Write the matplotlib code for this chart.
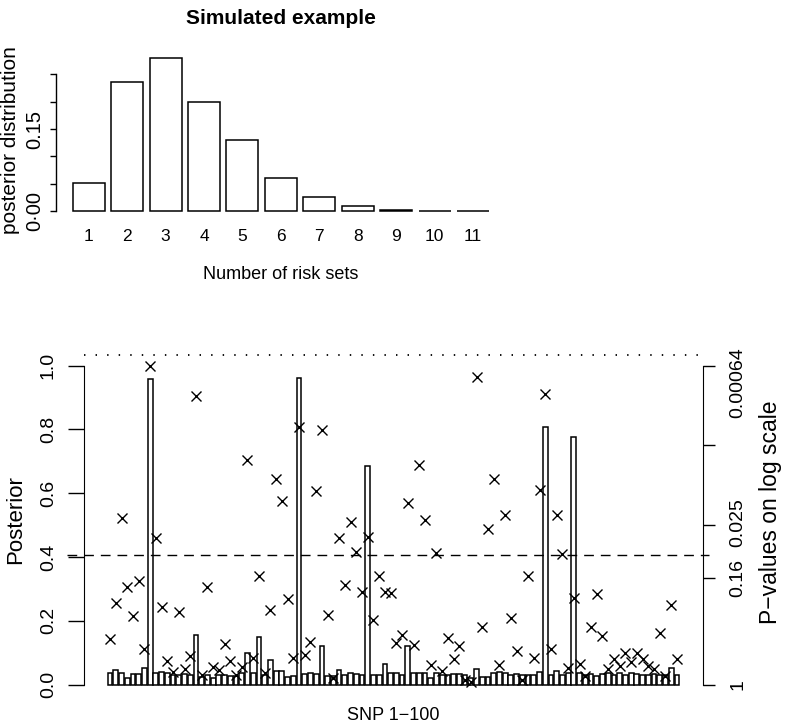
import numpy as np
import matplotlib
matplotlib.use("Agg")
import matplotlib.pyplot as plt
from matplotlib import transforms

# -----------------------------
# Data
# -----------------------------
n_risk_sets = [1, 2, 3, 4, 5, 6, 7, 8, 9, 10, 11]
set_posterior = [0.052, 0.235, 0.279, 0.200, 0.130, 0.060, 0.026, 0.010, 0.003, 0.0008, 0.0003]
set_ticks = [0.00, 0.05, 0.10, 0.15, 0.20, 0.25]
set_tick_labels = {0.00: "0·00", 0.15: "0.15"}

# posterior per SNP (bars), SNP 1..100
snp_posterior = [
    0.036, 0.046, 0.038, 0.022, 0.033, 0.033, 0.051, 0.957, 0.036, 0.041,
    0.038, 0.030, 0.030, 0.033, 0.030, 0.156, 0.025, 0.030, 0.020, 0.030,
    0.030, 0.027, 0.027, 0.036, 0.098, 0.036, 0.149, 0.030, 0.077, 0.044,
    0.044, 0.025, 0.027, 0.960, 0.033, 0.036, 0.033, 0.121, 0.027, 0.027,
    0.046, 0.030, 0.036, 0.033, 0.030, 0.687, 0.030, 0.030, 0.065, 0.038,
    0.038, 0.030, 0.121, 0.036, 0.036, 0.038, 0.020, 0.036, 0.030, 0.030,
    0.033, 0.033, 0.030, 0.020, 0.048, 0.025, 0.023, 0.038, 0.041, 0.038,
    0.030, 0.033, 0.030, 0.030, 0.030, 0.041, 0.809, 0.030, 0.044, 0.030,
    0.036, 0.777, 0.036, 0.030, 0.033, 0.027, 0.033, 0.036, 0.030, 0.036,
    0.030, 0.038, 0.033, 0.030, 0.030, 0.033, 0.030, 0.030, 0.051, 0.030,
]
# -log(p) scaled so that the smallest p-value (0.00064) sits at 1
snp_logp_scaled = [
    0.143, 0.255, 0.522, 0.305, 0.216, 0.326, 0.112, 1.000, 0.461, 0.243,
    0.074, 0.041, 0.229, 0.050, 0.090, 0.906, 0.029, 0.305, 0.056, 0.046,
    0.128, 0.073, 0.030, 0.056, 0.704, 0.083, 0.342, 0.038, 0.234, 0.645,
    0.576, 0.268, 0.083, 0.809, 0.093, 0.135, 0.608, 0.798, 0.218, 0.020,
    0.460, 0.311, 0.511, 0.417, 0.290, 0.464, 0.204, 0.341, 0.292, 0.286,
    0.132, 0.155, 0.569, 0.124, 0.689, 0.516, 0.063, 0.412, 0.044, 0.147,
    0.080, 0.120, 0.015, 0.010, 0.966, 0.181, 0.487, 0.645, 0.062, 0.532,
    0.209, 0.105, 0.015, 0.342, 0.083, 0.610, 0.910, 0.113, 0.532, 0.410,
    0.053, 0.272, 0.065, 0.027, 0.181, 0.285, 0.152, 0.050, 0.080, 0.060,
    0.098, 0.070, 0.098, 0.080, 0.060, 0.050, 0.163, 0.028, 0.251, 0.081,
]
post_ticks = [0.0, 0.2, 0.4, 0.6, 0.8, 1.0]
post_tick_labels = ["0.0", "0.2", "0.4", "0.6", "0.8", "1.0"]
p_ticks = [0.0, 0.336, 0.501, 0.752, 1.0]
p_label_pos = [0.0, 0.336, 0.508, 0.946]
p_tick_labels = ["1", "0.16", "0.025", "0.00064"]
p05_level = 0.407        # p = 0.05
bonf_level = 1.034       # p = 0.05 / 100

# -----------------------------
# Layout helpers (pixel based)
# -----------------------------
W, H = 788, 727
fig = plt.figure(figsize=(W / 100, H / 100), dpi=100)

def fx(px):
    return px / W

def fy(py):
    return 1 - py / H

HFONT = ["Liberation Sans", "DejaVu Sans"]
VFONT = ["Liberation Sans", "DejaVu Sans"]
PT = 72 / 100  # px -> pt

# -----------------------------
# Panel 1: number of risk sets
# -----------------------------
ax1 = fig.add_axes([fx(56), fy(217.4), (505.7 - 56) / W, (217.4 - 52.4) / H])
x1 = 0.7 + 1.2 * np.arange(len(n_risk_sets))
ax1.bar(x1, set_posterior, width=1.0, facecolor="white", edgecolor="black", linewidth=1.1)
ax1.set_xlim(-0.32, 13.72)
ax1.set_ylim(-0.0111, 0.2898)
for s in ["top", "right", "bottom"]:
    ax1.spines[s].set_visible(False)
ax1.spines["left"].set_bounds(0, 0.25)
ax1.spines["left"].set_linewidth(1.0)
ax1.set_xticks([])
ax1.set_yticks(set_ticks)
ax1.set_yticklabels([])
ax1.tick_params(axis="y", length=6 * PT, width=1.0, direction="out")

t1 = transforms.blended_transform_factory(ax1.transData, fig.transFigure)
for xi, lab in zip(x1, n_risk_sets):
    ax1.text(xi, fy(240.7), str(lab), transform=t1, ha="center", va="baseline",
             fontsize=12.5, family=HFONT)
ty1 = transforms.blended_transform_factory(fig.transFigure, ax1.transData)
for v, lab in set_tick_labels.items():
    ax1.text(fx(40), v, lab, transform=ty1, rotation=90, rotation_mode="anchor",
             ha="center", va="baseline", fontsize=14.5, family=VFONT)

fig.text(fx(281), fy(279.3), "Number of risk sets", ha="center", va="baseline",
         fontsize=13, family=HFONT)
fig.text(fx(16.5), fy(140), "posterior distribution", rotation=90, rotation_mode="anchor",
         ha="center", va="baseline", fontsize=15, family=VFONT)
fig.text(fx(281), fy(23.5), "Simulated example", ha="center", va="baseline",
         fontsize=15, fontweight="bold", family=HFONT)

# -----------------------------
# Panel 2: SNP posteriors and p-values
# -----------------------------
ax2 = fig.add_axes([fx(84.3), fy(698), (702.7 - 84.3) / W, (698 - 341) / H])
x2 = 0.7 + 1.2 * np.arange(len(snp_posterior))
ax2.bar(x2, snp_posterior, width=1.0, facecolor="white", edgecolor="black", linewidth=1.1)
ax2.plot(x2, snp_logp_scaled, linestyle="none", marker="x", markersize=7.8,
         markeredgewidth=1.0, color="black")
ax2.set_xlim(-4.7, 124.9)
ax2.set_ylim(-0.0417, 1.0774)

tl = transforms.blended_transform_factory(ax2.transAxes, ax2.transData)
ax2.plot([-0.028, 1.01], [p05_level, p05_level], transform=tl, clip_on=False,
         color="black", linewidth=1.0, linestyle=(0, (7, 5)))
ax2.plot([0.0, 1.005], [bonf_level, bonf_level], transform=tl, clip_on=False,
         color="black", linewidth=1.3, linestyle=(0, (0.8, 5.6)))

for s in ["top", "right", "bottom"]:
    ax2.spines[s].set_visible(False)
ax2.spines["left"].set_bounds(0, 1)
ax2.set_xticks([])
ax2.set_yticks(post_ticks)
ax2.set_yticklabels([])
ax2.tick_params(axis="y", length=16 * PT, width=1.0, direction="out")

ax3 = ax2.twinx()
ax3.set_ylim(ax2.get_ylim())
for s in ["top", "left", "bottom"]:
    ax3.spines[s].set_visible(False)
ax3.spines["right"].set_bounds(0, 1)
ax3.set_yticks(p_ticks)
ax3.set_yticklabels([])
ax3.tick_params(axis="y", length=12 * PT, width=1.0, direction="out")

ty2 = transforms.blended_transform_factory(fig.transFigure, ax2.transData)
for v, lab in zip(post_ticks, post_tick_labels):
    ax2.text(fx(53), v, lab, transform=ty2, rotation=90, rotation_mode="anchor",
             ha="center", va="baseline", fontsize=14, family=VFONT)
for v, lab in zip(p_label_pos, p_tick_labels):
    ax2.text(fx(742), v, lab, transform=ty2, rotation=90, rotation_mode="anchor",
             ha="center", va="baseline", fontsize=14, family=VFONT)

fig.text(fx(21), fy(519.5), "Posterior", rotation=90, rotation_mode="anchor",
         ha="center", va="baseline", fontsize=16, family=VFONT)
fig.text(fx(777), fy(512), "P\u2212values on log scale", rotation=90, rotation_mode="anchor",
         ha="center", va="baseline", fontsize=16.5, family=VFONT)
fig.text(fx(393.5), fy(720), "SNP 1\u2212100", ha="center", va="baseline",
         fontsize=13, family=HFONT)

fig.savefig("out.png", dpi=100, facecolor="white")
